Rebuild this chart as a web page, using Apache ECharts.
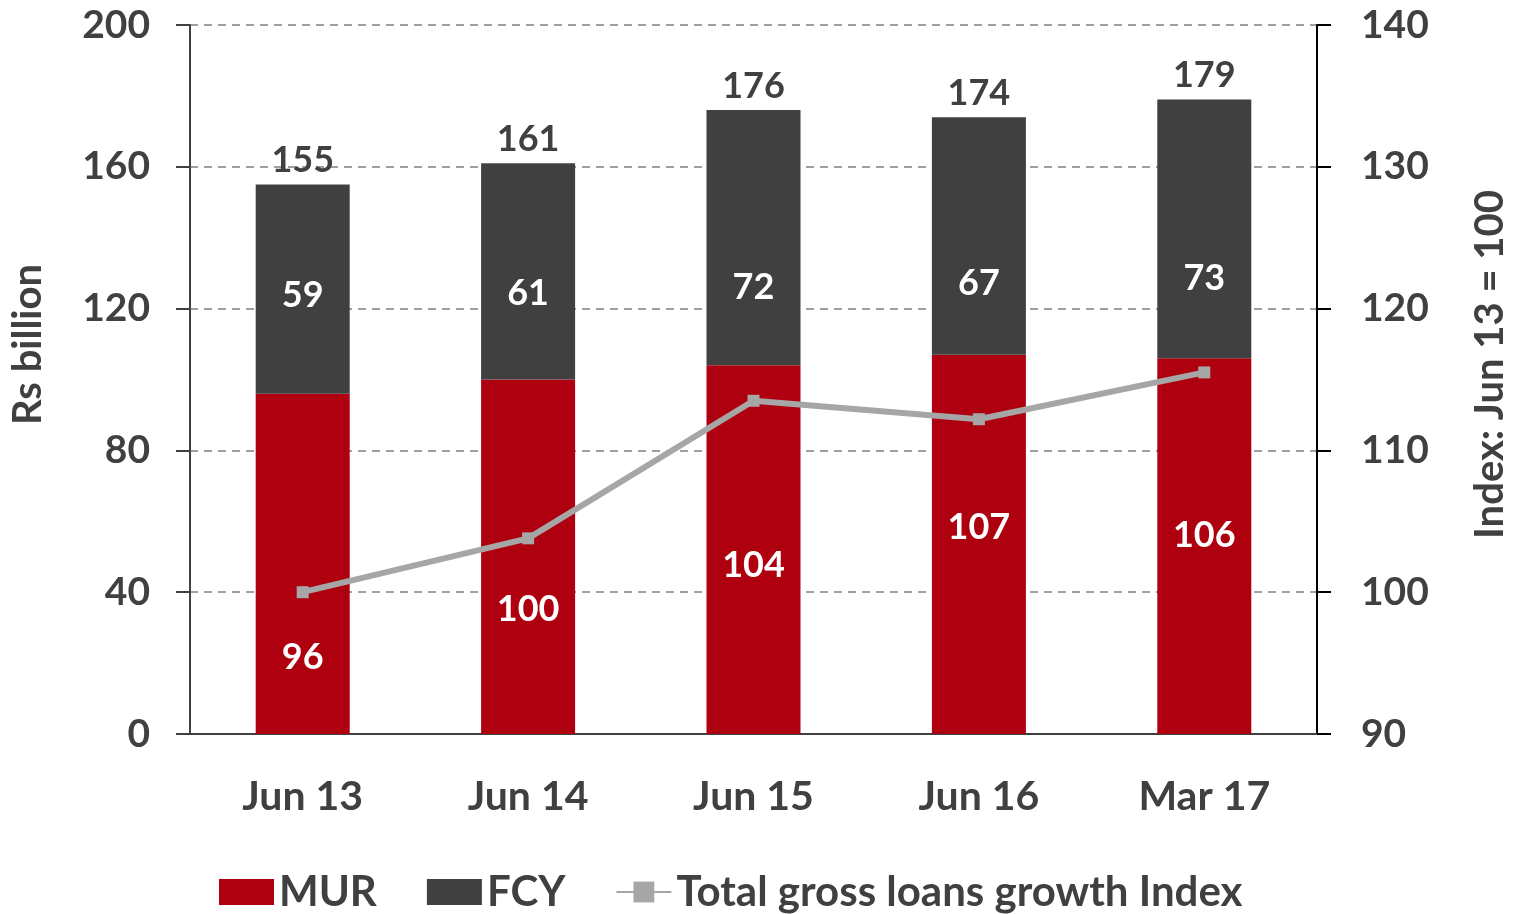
<!DOCTYPE html>
<html>
<head>
<meta charset="utf-8">
<script src="https://cdn.jsdelivr.net/npm/echarts@6/dist/echarts.min.js"></script>
<style>
  html, body { margin: 0; padding: 0; background: #fff; }
  #chart { width: 1518px; height: 914px; }
</style>
</head>
<body>
<div id="chart"></div>
<script>
const categories = ['Jun 13', 'Jun 14', 'Jun 15', 'Jun 16', 'Mar 17']
const murValues = [96, 100, 104, 107, 106]
const fcyValues = [59, 61, 72, 67, 73]
const totalValues = [155, 161, 176, 174, 179]
const indexValues = [100, 103.8, 113.5, 112.2, 115.5]

// label nudges (px) to sit labels where the original has them
const murLabelShift = [94, 53, 16, -17, -11]
const fcyLabelShift = [6, 22, 50, 47, 50]

const font = 'Lato, "Open Sans", sans-serif'
const textColor = '#404040'

const chart = echarts.init(document.getElementById('chart'))

const option = {
  backgroundColor: '#ffffff',
  textStyle: { fontFamily: font, fontWeight: 'bold', color: textColor },
  grid: { left: 186, right: 195, top: 25, bottom: 180 },
  legend: {
    bottom: -4,
    left: 214,
    itemWidth: 55,
    itemHeight: 26,
    itemGap: 50,
    textStyle: { fontFamily: font, fontWeight: 'bold', fontSize: 42, color: textColor },
    data: [
      { name: 'MUR', icon: 'rect' },
      { name: 'FCY', icon: 'rect' },
      'Total gross loans growth Index'
    ]
  },
  xAxis: {
    type: 'category',
    data: categories,
    axisLine: { lineStyle: { color: '#404040', width: 2 } },
    axisTick: { length: 14, lineStyle: { color: '#404040', width: 2 } },
    axisLabel: { fontSize: 41, fontWeight: 'bold', color: textColor, margin: 42, fontFamily: font }
  },
  yAxis: [
    {
      type: 'value',
      min: 0,
      max: 200,
      interval: 40,
      name: 'Rs billion',
      nameLocation: 'middle',
      nameGap: 142,
      nameRotate: 90,
      nameTextStyle: { fontSize: 40, fontWeight: 'bold', color: textColor, fontFamily: font, padding: [0, 0, 0, 70] },
      axisLine: { show: true, lineStyle: { color: '#404040', width: 2 } },
      axisTick: { show: true, inside: false, length: 14, lineStyle: { color: '#404040', width: 2 } },
      axisLabel: { fontSize: 39, fontWeight: 'bold', color: textColor, margin: 40, fontFamily: font },
      splitLine: { lineStyle: { color: '#808080', type: [8, 6], width: 1.5 } }
    },
    {
      type: 'value',
      min: 90,
      max: 140,
      interval: 10,
      position: 'right',
      name: 'Index: Jun 13 = 100',
      nameLocation: 'middle',
      nameGap: 153,
      nameRotate: 90,
      nameTextStyle: { fontSize: 40, fontWeight: 'bold', color: textColor, fontFamily: font, padding: [0, 0, 0, 30] },
      axisLine: { show: true, lineStyle: { color: '#000000', width: 2 } },
      axisTick: { show: true, inside: false, length: 14, lineStyle: { color: '#000000', width: 2 } },
      axisLabel: { fontSize: 39, fontWeight: 'bold', color: textColor, margin: 44, fontFamily: font },
      splitLine: { show: false }
    }
  ],
  series: [
    {
      name: 'MUR',
      type: 'bar',
      stack: 'loans',
      barWidth: 94,
      itemStyle: { color: '#AE000F' },
      data: murValues.map((v, i) => ({
        value: v,
        label: { offset: [0, murLabelShift[i]] }
      })),
      label: {
        show: true,
        position: 'inside',
        color: '#ffffff',
        fontSize: 36,
        fontWeight: 'bold',
        fontFamily: font
      },
      z: 2
    },
    {
      name: 'FCY',
      type: 'bar',
      stack: 'loans',
      barWidth: 94,
      itemStyle: { color: '#404040' },
      data: fcyValues.map((v, i) => ({
        value: v,
        label: { offset: [0, fcyLabelShift[i]] }
      })),
      label: {
        show: true,
        position: 'inside',
        color: '#ffffff',
        fontSize: 36,
        fontWeight: 'bold',
        fontFamily: font
      },
      z: 2
    },
    {
      name: 'Total',
      type: 'scatter',
      data: totalValues,
      symbolSize: 0,
      silent: true,
      itemStyle: { opacity: 1 },
      label: {
        show: true,
        position: 'top',
        distance: 6,
        color: textColor,
        fontSize: 36,
        fontWeight: 'bold',
        fontFamily: font
      },
      z: 3
    },
    {
      name: 'Total gross loans growth Index',
      type: 'line',
      yAxisIndex: 1,
      data: indexValues,
      symbol: 'rect',
      symbolSize: 12,
      lineStyle: { color: '#A6A6A6', width: 6 },
      itemStyle: { color: '#A6A6A6' },
      z: 5
    }
  ]
}

chart.setOption(option)
</script>
</body>
</html>
